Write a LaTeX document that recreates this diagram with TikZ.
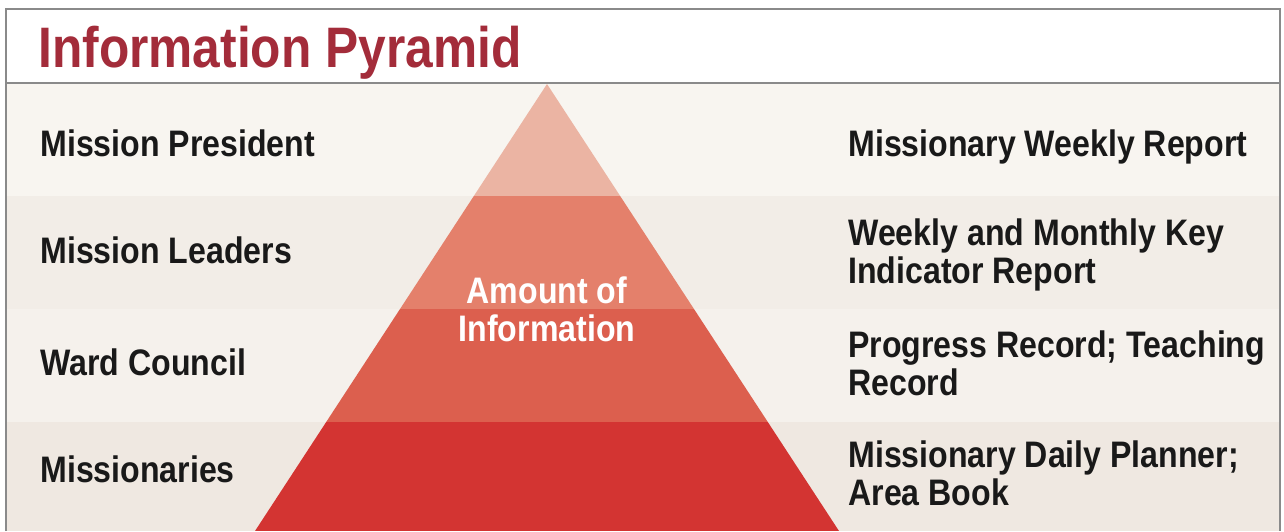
\documentclass[tikz,border=0pt]{standalone}
\usepackage{fontspec}
\newfontfamily\labelfont{Liberation Sans}[FakeStretch=0.87]
\definecolor{titlered}{HTML}{A32C3A}
\definecolor{framegray}{HTML}{8A8A8A}
\definecolor{bandA}{HTML}{F8F5F0}
\definecolor{bandB}{HTML}{F2EDE7}
\definecolor{bandC}{HTML}{F5F1EC}
\definecolor{bandD}{HTML}{EFE8E1}
\definecolor{pyrA}{HTML}{EBB4A3}
\definecolor{pyrB}{HTML}{E4806B}
\definecolor{pyrC}{HTML}{DC5F4E}
\definecolor{pyrD}{HTML}{D33432}
\tikzset{
    level/.style = {anchor=base west, inner sep=0pt, align=left,
        font=\labelfont\bfseries\fontsize{21}{21.6}\selectfont, text=black!90},
    report/.style = {level}
}
\begin{document}
\begin{tikzpicture}[x=0.02cm,y=-0.02cm]
            \useasboundingbox (0,0) rectangle (1284,531);
            % background bands
            \fill[white] (0,0) rectangle (1284,83);
            \fill[bandA] (6,83) rectangle (1280,196);
            \fill[bandB] (6,196) rectangle (1280,309);
            \fill[bandC] (6,309) rectangle (1280,422);
            \fill[bandD] (6,422) rectangle (1280,531);
            % frame
            \draw[framegray, line width=1.2pt] (6,531) -- (6,9) -- (1280,9) -- (1280,531);
            \draw[framegray, line width=1.2pt] (6,83) -- (1280,83);
            % pyramid
            \begin{scope}
                \clip (547,84) -- (839,531) -- (255,531) -- cycle;
                \fill[pyrA] (200,84) rectangle (900,196);
                \fill[pyrB] (200,196) rectangle (900,309);
                \fill[pyrC] (200,309) rectangle (900,422);
                \fill[pyrD] (200,422) rectangle (900,531);
            \end{scope}
            \node[anchor=base west, inner sep=0pt, text=titlered,
                font=\labelfont\bfseries\fontsize{32.5}{34}\selectfont]
                (title) at (38,67) {Information Pyramid};
            % who
            \node[level] (president) at (40,156) {Mission President};
            \node[level] (leaders) at (40,263) {Mission Leaders};
            \node[level] (ward) at (40,375) {Ward Council};
            \node[level] (missionaries) at (40,482) {Missionaries};
            % what they get (base is the last line)
            \node[report] (weekly) at (848,156) {Missionary Weekly Report};
            \node[report] (keyind) at (848,283) {Weekly and Monthly Key\\Indicator Report};
            \node[report] (progress) at (848,395) {Progress Record; Teaching\\Record};
            \node[report] (planner) at (848,505) {Missionary Daily Planner;\\Area Book};
            \node[level, anchor=base, align=center, text=white] (amount) at (547,341) {Amount of\\Information};
        \end{tikzpicture}
\end{document}
